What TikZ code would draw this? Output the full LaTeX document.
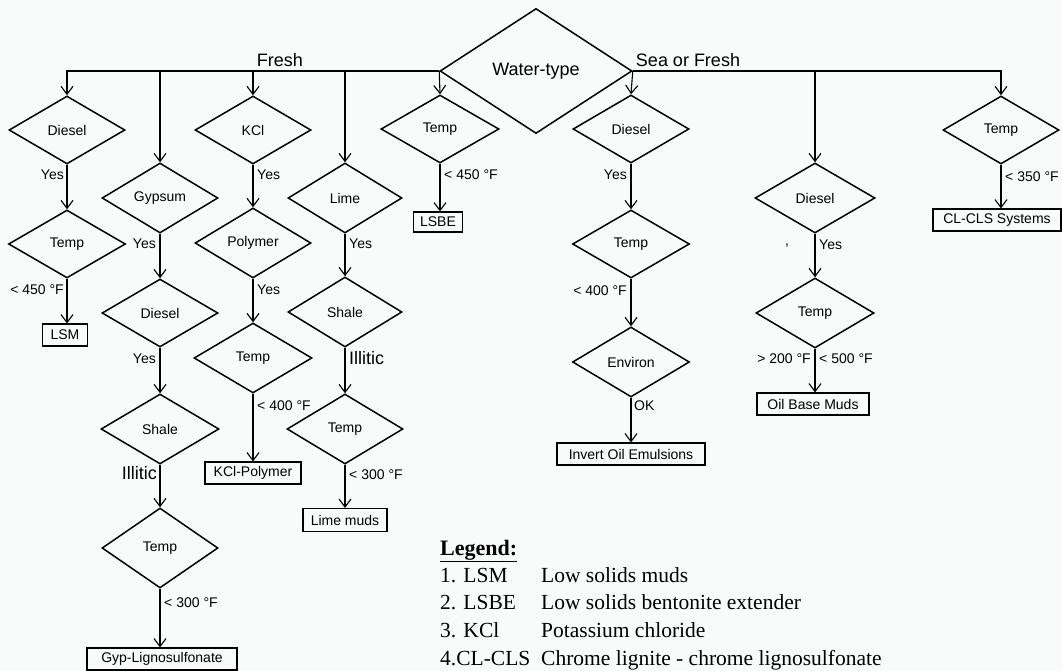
\documentclass[tikz,border=0pt]{standalone}
\usepackage{fontspec}
\setmainfont{Liberation Sans}
\newfontfamily\legfont{Liberation Serif}
\usetikzlibrary{shapes.geometric,arrows.meta}
\definecolor{paper}{RGB}{249,250,250}
\begin{document}
\begin{tikzpicture}[x=1pt,y=-1pt,
  dia/.style={draw, shape=diamond, line width=1.5pt, inner sep=0pt, aspect=1.7,
    minimum width=116pt, minimum height=68pt, font=\fontsize{14}{16}\selectfont},
  res/.style={draw, rectangle, line width=1.1pt, inner sep=0pt, minimum height=22pt,
    font=\fontsize{14}{16}\selectfont},
  lab/.style={font=\fontsize{14}{16}\selectfont, inner sep=1pt},
  big/.style={font=\fontsize{18}{20}\selectfont, inner sep=1pt},
  arr/.style={line width=1.1pt, -{Straight Barb[length=8pt,width=12pt,line width=1.1pt]}},
  leg/.style={font=\legfont\fontsize{21.5}{24}\selectfont, anchor=base west, inner sep=0pt},
]
\useasboundingbox (0,0) rectangle (1062,671);
\fill[paper] (0,0) rectangle (1062,671);

% main decision
\node[dia, minimum width=192pt, minimum height=125pt, font=\fontsize{18}{20}\selectfont] (water) at (536,71) {Water-type};

% column 1
\node[dia] (d1) at (67,130) {Diesel};
\node[dia, minimum width=117pt] (t1) at (67,244) {Temp};
\node[res, minimum width=45pt] (lsm) at (65,335) {LSM};

% column 2
\node[dia, minimum height=70pt] (gyp) at (160,198) {Gypsum};
\node[dia] (d2) at (160,313) {Diesel};
\node[dia, minimum height=70pt, minimum width=118pt] (sh2) at (160,429) {Shale};
\node[dia, minimum height=80pt] (t2) at (160,548) {Temp};
\node[res, minimum width=150pt] (gypl) at (162,659) {Gyp-Lignosulfonate};

% column 3
\node[dia] (kcl) at (253,130) {KCl};
\node[dia, minimum height=70pt] (poly) at (253,243) {Polymer};
\node[dia, minimum height=70pt, minimum width=118pt] (t3) at (253,358) {Temp};
\node[res, minimum width=96pt] (kclp) at (253,473) {KCl-Polymer};

% column 4
\node[dia, minimum height=70pt, minimum width=114pt] (lime) at (345,198) {Lime};
\node[dia, minimum height=70pt, minimum width=114pt] (sh4) at (345,312) {Shale};
\node[dia, minimum height=70pt] (t4) at (345,429) {Temp};
\node[res, minimum width=84pt, minimum height=23pt] (limem) at (345,520) {Lime muds};

% column 5
\node[dia, minimum width=118pt] (t5) at (440,129) {Temp};
\node[res, minimum width=49pt, minimum height=20pt] (lsbe) at (438,222) {LSBE};

% column 6
\node[dia] (d6) at (631,129) {Diesel};
\node[dia, minimum width=117pt] (t6) at (631,244) {Temp};
\node[dia, minimum height=70pt, minimum width=117pt] (env) at (631,362) {Environ};
\node[res, minimum width=148pt] (ioe) at (631,454) {Invert Oil Emulsions};

% column 7
\node[dia, minimum height=70pt, minimum width=120pt] (d7) at (815,198) {Diesel};
\node[dia, minimum height=70pt, minimum width=118pt] (t7) at (815,313) {Temp};
\node[res, minimum width=112pt] (obm) at (813,404) {Oil Base Muds};

% column 8
\node[dia] (t8) at (1001,130) {Temp};
\node[res, minimum width=128pt] (cls) at (997,220) {CL-CLS Systems};

% branch lines from the main decision
\draw[arr] (water.west) -| (d1.north);
\draw[arr] (water.west) -| (gyp.north);
\draw[arr] (water.west) -| (kcl.north);
\draw[arr] (water.west) -| (lime.north);
\draw[arr] (water.west) -- (t5.north);
\draw[arr] (water.east) -- (d6.north);
\draw[arr] (water.east) -| (d7.north);
\draw[arr] (water.east) -| (t8.north);

% column connectors
\draw[arr] (d1.south) -- (t1.north);
\draw[arr] (t1.south) -- (t1.south |- lsm.north);

\draw[arr] (gyp.south) -- (d2.north);
\draw[arr] (d2.south) -- (sh2.north);
\draw[arr] (sh2.south) -- (t2.north);
\draw[arr] (t2.south) -- (t2.south |- gypl.north);

\draw[arr] (kcl.south) -- (poly.north);
\draw[arr] (poly.south) -- (t3.north);
\draw[arr] (t3.south) -- (kclp.north);

\draw[arr] (lime.south) -- (sh4.north);
\draw[arr] (sh4.south) -- (t4.north);
\draw[arr] (t4.south) -- (limem.north);

\draw[arr] (t5.south) -- (t5.south |- lsbe.north);

\draw[arr] (d6.south) -- (t6.north);
\draw[arr] (t6.south) -- (env.north);
\draw[arr] (env.south) -- (ioe.north);

\draw[arr] (d7.south) -- (t7.north);
\draw[arr] (t7.south) -- (t7.south |- obm.north);

\draw[arr] (t8.south) -- (t8.south |- cls.north);

% branch labels
\node[big] (fresh) at (280,60) {Fresh};
\node[big] (sea) at (688,60) {Sea or Fresh};

\node[lab, anchor=east] (l1) at (65,175) {Yes};
\node[lab, anchor=east] (l2) at (65,290) {< 450 °F};

\node[lab, anchor=east] (l3) at (157,244) {Yes};
\node[lab, anchor=east] (l4) at (157,359) {Yes};
\node[big, anchor=east] (l5) at (158,473) {Illitic};
\node[lab, anchor=west] (l6) at (163,603) {< 300 °F};

\node[lab, anchor=west] (l7) at (256,175) {Yes};
\node[lab, anchor=west] (l8) at (256,290) {Yes};
\node[lab, anchor=west] (l9) at (256,406) {< 400 °F};

\node[lab, anchor=west] (l10) at (348,244) {Yes};
\node[big, anchor=west] (l11) at (348,358) {Illitic};
\node[lab, anchor=west] (l12) at (348,475) {< 300 °F};

\node[lab, anchor=west] (l13) at (443,175) {< 450 °F};

\node[lab, anchor=east] (l14) at (628,175) {Yes};
\node[lab, anchor=east] (l15) at (628,291) {< 400 °F};
\node[lab, anchor=west] (l16) at (633,406) {OK};

\node[lab] (comma) at (787,246) {,};
\node[lab, anchor=west] (l17) at (818,245) {Yes};
\node[lab, anchor=east] (l18) at (812,359) {> 200 °F};
\node[lab, anchor=west] (l19) at (818,359) {< 500 °F};

\node[lab, anchor=west] (l20) at (1004,177) {< 350 °F};

% legend
\node[leg, font=\legfont\bfseries\fontsize{22}{24}\selectfont] (legh) at (440,555) {\underline{Legend:}};
\node[leg] (k1) at (440,582) {1. LSM};
\node[leg] (v1) at (541,582) {Low solids muds};
\node[leg] (k2) at (440,609) {2. LSBE};
\node[leg] (v2) at (541,609) {Low solids bentonite extender};
\node[leg] (k3) at (440,637) {3. KCl};
\node[leg] (v3) at (541,637) {Potassium chloride};
\node[leg] (k4) at (440,665) {4.CL-CLS};
\node[leg] (v4) at (541,665) {Chrome lignite - chrome lignosulfonate};
\end{tikzpicture}
\end{document}
